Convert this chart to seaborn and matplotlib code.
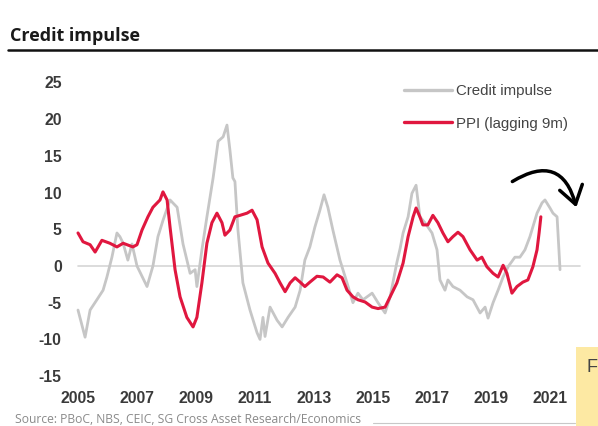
import numpy as np
import pandas as pd
import matplotlib
matplotlib.use("Agg")
import matplotlib.pyplot as plt
from matplotlib.patches import FancyArrowPatch, Rectangle
from matplotlib.lines import Line2D
import seaborn as sns

# Credit impulse (% of GDP): decimal year and value
credit_t = [2005.0, 2005.24, 2005.41, 2005.64, 2005.85, 2005.98, 2006.15, 2006.32, 2006.42, 2006.53,
            2006.69, 2006.83, 2007.0, 2007.34, 2007.54, 2007.71, 2007.88, 2008.12, 2008.36, 2008.56,
            2008.8, 2008.97, 2009.03, 2009.2, 2009.37, 2009.58, 2009.75, 2009.92, 2010.05, 2010.15,
            2010.25, 2010.32, 2010.42, 2010.59, 2010.83, 2011.07, 2011.17, 2011.27, 2011.34, 2011.51,
            2011.75, 2011.92, 2012.12, 2012.36, 2012.53, 2012.69, 2012.86, 2013.03, 2013.2, 2013.34,
            2013.47, 2013.64, 2013.88, 2014.12, 2014.32, 2014.49, 2014.66, 2014.97, 2015.17, 2015.41,
            2015.58, 2015.81, 2015.92, 2016.02, 2016.19, 2016.32, 2016.46, 2016.59, 2016.76, 2017.0,
            2017.17, 2017.27, 2017.44, 2017.54, 2017.71, 2017.95, 2018.19, 2018.39, 2018.63, 2018.8,
            2018.9, 2019.07, 2019.24, 2019.41, 2019.58, 2019.81, 2019.98, 2020.15, 2020.32, 2020.56,
            2020.73, 2020.83, 2021.0, 2021.1, 2021.24, 2021.34]
credit_v = [-6.0, -9.7, -6.0, -4.6, -3.3, -1.5, 1.2, 4.5, 4.0, 3.1,
            0.8, 3.0, 0.0, -2.8, 0.0, 4.0, 6.2, 9.0, 8.0, 3.0,
            -1.0, -0.5, -2.8, 2.2, 6.7, 12.0, 17.0, 17.6, 19.2, 15.8,
            12.0, 11.5, 5.0, -2.3, -6.0, -9.1, -10.0, -7.0, -9.6, -5.6,
            -7.4, -8.3, -7.0, -5.6, -3.3, 0.8, 2.6, 5.3, 7.6, 9.7,
            8.0, 4.9, 0.8, -2.3, -5.0, -3.7, -4.6, -3.7, -5.0, -6.4,
            -4.2, 0.5, 2.4, 4.5, 6.7, 9.9, 11.0, 6.7, 5.9, 4.5,
            2.2, -1.9, -3.3, -1.9, -2.8, -3.3, -4.2, -4.6, -6.4, -5.6,
            -7.1, -5.0, -3.3, -1.5, -0.1, 1.2, 1.2, 2.2, 4.0, 7.2,
            8.6, 9.0, 7.9, 7.2, 6.7, -0.5]

# PPI y/y %, shifted forward nine months
ppi_t = [2005.0, 2005.17, 2005.41, 2005.58, 2005.81, 2006.08, 2006.32, 2006.53, 2006.86, 2007.0,
         2007.17, 2007.37, 2007.54, 2007.78, 2007.88, 2008.02, 2008.12, 2008.29, 2008.46, 2008.69,
         2008.9, 2009.03, 2009.2, 2009.37, 2009.54, 2009.71, 2009.88, 2009.98, 2010.15, 2010.32,
         2010.49, 2010.73, 2010.9, 2011.07, 2011.24, 2011.44, 2011.68, 2011.85, 2012.02, 2012.19,
         2012.36, 2012.53, 2012.69, 2012.86, 2013.1, 2013.31, 2013.54, 2013.78, 2013.95, 2014.12,
         2014.32, 2014.49, 2014.73, 2014.97, 2015.17, 2015.41, 2015.58, 2015.81, 2016.02, 2016.19,
         2016.36, 2016.46, 2016.59, 2016.69, 2016.86, 2017.03, 2017.2, 2017.37, 2017.54, 2017.71,
         2017.88, 2018.05, 2018.29, 2018.53, 2018.69, 2018.86, 2019.07, 2019.24, 2019.41, 2019.54,
         2019.71, 2019.88, 2020.08, 2020.25, 2020.42, 2020.56, 2020.63, 2020.69]
ppi_v = [4.5, 3.3, 2.9, 1.9, 3.5, 3.1, 2.6, 3.1, 2.6, 2.9,
         4.9, 6.7, 8.0, 9.0, 10.1, 9.0, 5.3, -0.5, -4.2, -7.0,
         -8.3, -7.0, -2.3, 3.1, 5.9, 7.2, 5.9, 4.2, 4.9, 6.7,
         6.9, 7.2, 7.6, 6.3, 2.6, 0.4, -1.0, -2.3, -3.5, -2.3,
         -1.6, -2.2, -2.8, -2.2, -1.4, -1.5, -2.2, -1.2, -1.6, -3.3,
         -4.2, -4.6, -4.9, -5.6, -5.8, -5.6, -4.2, -2.3, 0.4, 4.0,
         6.7, 7.9, 6.7, 5.6, 5.6, 6.9, 5.9, 4.5, 3.3, 4.0,
         4.6, 4.0, 2.2, 0.8, 1.2, -0.1, -1.0, -1.5, 0.1, -1.0,
         -3.7, -2.8, -2.2, -1.9, -0.1, 2.2, 4.5, 6.7]

series_names = ["Credit impulse", "PPI (lagging 9m)"]
series_colors = ["#c6c6c6", "#e0173f"]
year_ticks = list(range(2005, 2022, 2))
value_ticks = list(range(-15, 26, 5))

df = pd.concat([
    pd.DataFrame({"year": credit_t, "value": credit_v, "series": series_names[0]}),
    pd.DataFrame({"year": ppi_t, "value": ppi_v, "series": series_names[1]}),
], ignore_index=True)

sns.set_theme(style="white")
plt.rcParams["font.family"] = ["Liberation Sans", "DejaVu Sans"]

W, H = 598, 426
fig = plt.figure(figsize=(W / 100, H / 100), dpi=100)
ax = fig.add_axes([70 / W, 1 - 385 / H, 515 / W, 310 / H])

ax.axhline(0, xmin=0.015, xmax=0.99, color="#d6d6d6", lw=1.2, zorder=1)

palette = dict(zip(series_names, series_colors))
sns.lineplot(data=df[df.series == series_names[0]], x="year", y="value", hue="series",
             palette=palette, lw=2.0, ax=ax, legend=False, zorder=2)
sns.lineplot(data=df[df.series == series_names[1]], x="year", y="value", hue="series",
             palette=palette, lw=2.2, ax=ax, legend=False, zorder=3)

ax.set_xlim(2005 - 8 / 29.5, 2005 + 507 / 29.5)
ax.set_ylim((266 - 385) / 7.34, (266 - 75) / 7.34)
ax.set_xticks(year_ticks)
ax.set_xticklabels([str(y) for y in year_ticks])
ax.set_yticks(value_ticks)
ax.set_yticklabels([str(v) for v in value_ticks])
ax.set_xlabel("")
ax.set_ylabel("")
for s in ax.spines.values():
    s.set_visible(False)
ax.tick_params(axis="both", length=0, labelsize=11.3, labelcolor="#3a3a3a")
ax.tick_params(axis="y", pad=6)
ax.tick_params(axis="x", pad=4)
for lbl in ax.get_xticklabels() + ax.get_yticklabels():
    lbl.set_fontweight("bold")

handles = [Line2D([], [], color=c, lw=2.4) for c in series_colors]
leg = ax.legend(handles, series_names, loc="upper left", bbox_to_anchor=(0.622, 1.015),
                frameon=False, fontsize=10.8, handlelength=3.2, handletextpad=0.3,
                labelspacing=1.25)
for t in leg.get_texts():
    t.set_color("#444444")

# Title with rule underneath
fig.text(10 / W, 1 - 41 / H, "Credit impulse", fontsize=13, fontweight="bold",
         color="#1a1a1a", family=["Open Sans", "DejaVu Sans"])
fig.add_artist(Line2D([8 / W, 1.0], [1 - 50 / H, 1 - 50 / H], color="#111111", lw=1.8))

# Source note
fig.text(15 / W, 1 - 423 / H, "Source: PBoC, NBS, CEIC, SG Cross Asset Research/Economics",
         fontsize=8.7, color="#8a8a8a", family=["Open Sans", "DejaVu Sans"])
fig.add_artist(Line2D([373 / W, 575 / W], [1 - 423 / H, 1 - 423 / H], color="#c8c8c8", lw=0.8))

# Curved arrow pointing down
arrow = FancyArrowPatch((510 / W, 1 - 183 / H), (577 / W, 1 - 210 / H),
                        transform=fig.transFigure, connectionstyle="arc3,rad=-0.7",
                        arrowstyle="->,head_length=9,head_width=6", color="black",
                        lw=2.5, mutation_scale=1.4, capstyle="round", joinstyle="round")
fig.add_artist(arrow)

# Note box at the lower right edge
fig.add_artist(Rectangle((576 / W, 0), 22 / W, 79 / H, transform=fig.transFigure,
                         facecolor="#fde9a3", edgecolor="none"))
fig.text(587 / W, 1 - 372 / H, "F", fontsize=13, color="#444444")

fig.savefig("out.png", dpi=100)
